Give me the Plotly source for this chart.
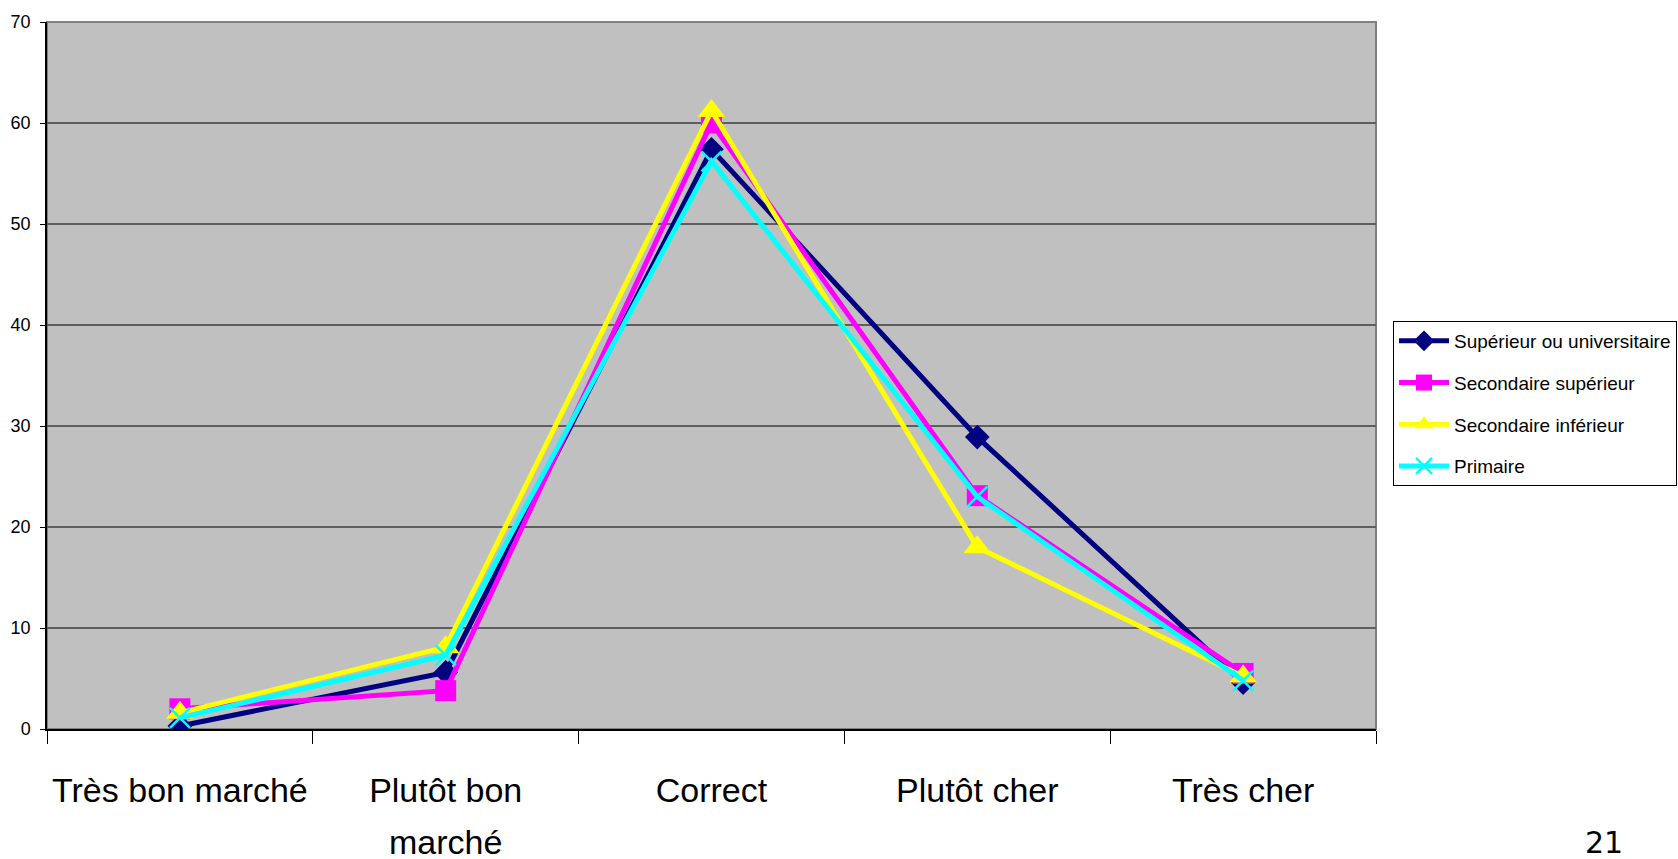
import plotly.graph_objects as go

# Appréciation du prix selon le niveau d'études (%)
categories = ["Très bon marché", "Plutôt bon marché", "Correct", "Plutôt cher", "Très cher"]
tick_labels = ["Très bon marché", "Plutôt bon<br>marché", "Correct", "Plutôt cher", "Très cher"]

superieur_univ = [0.3, 5.6, 57.4, 28.9, 4.6]
secondaire_sup = [2.0, 3.8, 60.0, 23.1, 5.5]
secondaire_inf = [1.6, 8.1, 61.2, 18.0, 5.2]
primaire = [1.1, 7.3, 56.2, 23.0, 4.8]

y_ticks = [0, 10, 20, 30, 40, 50, 60, 70]
page_number = "21"

FONT = "Liberation Sans Narrow, Arial Narrow, Liberation Sans, Arial, sans-serif"

series = [
    ("Supérieur ou universitaire", superieur_univ, "#000080",
     dict(symbol="diamond", size=19, color="#000080")),
    ("Secondaire supérieur", secondaire_sup, "#FF00FF",
     dict(symbol="square", size=21, color="#FF00FF")),
    ("Secondaire inférieur", secondaire_inf, "#FFFF00",
     dict(symbol="triangle-up", size=24, color="#FFFF00")),
    ("Primaire", primaire, "#00FFFF",
     dict(symbol="x-thin", size=20, color="#00FFFF",
          line=dict(color="#00FFFF", width=2.5))),
]

fig = go.Figure()
for i, (name, values, color, marker) in enumerate(series):
    fig.add_trace(go.Scatter(
        x=categories, y=values, name=name, mode="lines+markers",
        line=dict(color=color, width=5), marker=marker,
        legendgroup=f"g{i}",
    ))

W, H = 1678, 859
L, R, T, B = 47, 302, 22, 130

# category labels: glyphs at 34px, line pitch of a 40px font
tick_text = [f'<span style="font-size:34px">{t}</span>' for t in tick_labels]

fig.update_layout(
    width=W, height=H,
    margin=dict(l=L, r=R, t=T, b=B, autoexpand=False),
    paper_bgcolor="white",
    plot_bgcolor="#C0C0C0",
    showlegend=True,
    legend=dict(
        x=(1393 - L) / (W - L - R), y=(729 - 321) / (H - T - B),
        xanchor="left", yanchor="top",
        bgcolor="white", bordercolor="#000000", borderwidth=1,
        font=dict(family=FONT, size=19, color="black"),
        tracegroupgap=14, itemwidth=50,
    ),
    xaxis=dict(
        type="category", automargin=False, tickangle=0,
        tickmode="array", tickvals=categories, ticktext=tick_text,
        tickson="boundaries", ticks="outside", ticklen=13, tickcolor="black",
        showline=True, linecolor="black", linewidth=1.5,
        showgrid=False,
        tickfont=dict(family=FONT, size=40, color="black"),
        ticklabelstandoff=23,
        range=[-0.5, 4.5],
    ),
    yaxis=dict(
        range=[0, 70], tickvals=y_ticks, automargin=False,
        ticks="outside", ticklen=5, tickcolor="black",
        showline=True, linecolor="black", linewidth=1.5,
        showgrid=True, gridcolor="#5E5E5E", gridwidth=1.5,
        zeroline=False,
        tickfont=dict(family=FONT, size=18, color="black"),
        ticklabelstandoff=6,
    ),
    shapes=[dict(
        type="rect", xref="paper", yref="paper", x0=0, x1=1, y0=0, y1=1,
        line=dict(color="#808080", width=2), layer="below",
    )],
    annotations=[dict(
        text=page_number, xref="paper", yref="paper",
        x=(1604 - L) / (W - L - R), y=-(842 - (H - B)) / (H - T - B),
        xanchor="center", yanchor="middle", showarrow=False,
        font=dict(family="DejaVu Sans, Verdana, sans-serif", size=30, color="black"),
    )],
)

fig.write_html("out.html")
